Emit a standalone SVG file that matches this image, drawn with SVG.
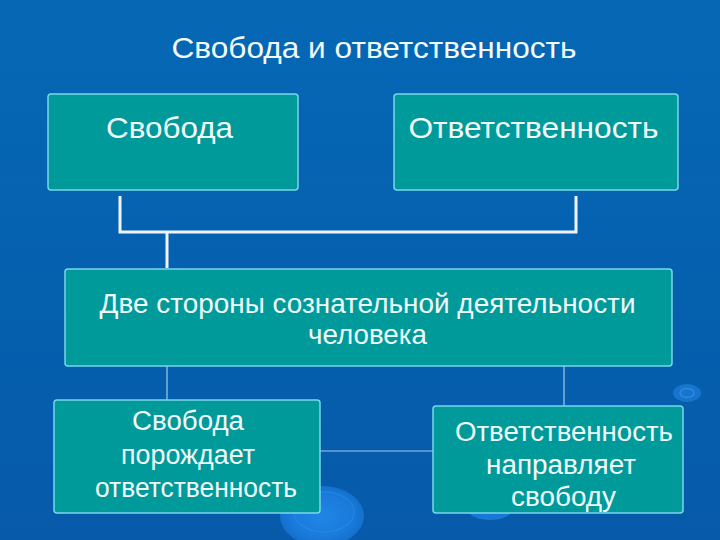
<svg xmlns="http://www.w3.org/2000/svg" width="720" height="540" viewBox="0 0 720 540">
<defs>
<linearGradient id="bg" x1="0" y1="0" x2="0" y2="1">
<stop offset="0" stop-color="#0568b5"/>
<stop offset="1" stop-color="#065aa9"/>
</linearGradient>
<radialGradient id="drop" cx="0.5" cy="0.5" r="0.5">
<stop offset="0" stop-color="#1f86e4"/>
<stop offset="0.7" stop-color="#1a7bdc"/>
<stop offset="1" stop-color="#1470cc"/>
</radialGradient>
<style>
.box{fill:#009a9a;stroke:#7ad6ea;stroke-width:1.5}
.t{font-family:"Liberation Sans",Arial,sans-serif;fill:#f2fbfb;text-anchor:middle}
.thick{fill:none;stroke:#eef4fa;stroke-width:3}
.thin{fill:none;stroke:#9ecbe8;stroke-width:1.2}
</style>
</defs>
<rect width="720" height="540" fill="url(#bg)"/>
<g id="decor">
<ellipse cx="322" cy="516" rx="42" ry="30" fill="url(#drop)"/>
<ellipse cx="324" cy="512" rx="30" ry="20" fill="none" stroke="#2a8fe8" stroke-width="1.5" opacity="0.5"/>
<ellipse cx="490" cy="510" rx="22" ry="10" fill="#1878d6"/>
<ellipse cx="687" cy="393" rx="14" ry="9" fill="#1e7fdc" opacity="0.7"/>
<ellipse cx="687" cy="393" rx="7" ry="4.5" fill="none" stroke="#3590e6" stroke-width="1.5" opacity="0.8"/>
</g>
<text class="t" x="374" y="58" font-size="29" textLength="405" lengthAdjust="spacingAndGlyphs">Свобода и ответственность</text>
<g id="connectors">
<path class="thick" d="M120 196 V232 H576 V196"/>
<path class="thick" d="M167 232 V268"/>
<path class="thin" d="M167 366 V400"/>
<path class="thin" d="M564 366 V406"/>
<path class="thin" d="M320 451 H433"/>
</g>
<g id="n-freedom">
<rect class="box" x="48" y="94" width="250" height="96" rx="3"/>
<text class="t" x="169.5" y="138" font-size="29" textLength="127" lengthAdjust="spacingAndGlyphs">Свобода</text>
</g>
<g id="n-responsibility">
<rect class="box" x="394" y="94" width="284" height="96" rx="3"/>
<text class="t" x="533.5" y="137.5" font-size="30" textLength="250" lengthAdjust="spacingAndGlyphs">Ответственность</text>
</g>
<g id="n-sides">
<rect class="box" x="65" y="269" width="607" height="97" rx="3"/>
<text class="t" x="367.5" y="313" font-size="28" textLength="536" lengthAdjust="spacingAndGlyphs">Две стороны сознательной деятельности</text>
<text class="t" x="367.5" y="344" font-size="28" textLength="119" lengthAdjust="spacingAndGlyphs">человека</text>
</g>
<g id="n-gen">
<rect class="box" x="54" y="400" width="266" height="113" rx="3"/>
<text class="t" x="188" y="430" font-size="27" textLength="112" lengthAdjust="spacingAndGlyphs">Свобода</text>
<text class="t" x="188" y="464" font-size="27" textLength="134" lengthAdjust="spacingAndGlyphs">порождает</text>
<text class="t" x="196" y="497" font-size="27" textLength="202" lengthAdjust="spacingAndGlyphs">ответственность</text>
</g>
<g id="n-dir">
<rect class="box" x="433" y="406" width="250" height="107" rx="3"/>
<text class="t" x="564" y="441" font-size="27" textLength="218" lengthAdjust="spacingAndGlyphs">Ответственность</text>
<text class="t" x="561" y="474" font-size="27" textLength="150" lengthAdjust="spacingAndGlyphs">направляет</text>
<text class="t" x="563.5" y="506" font-size="27" textLength="105" lengthAdjust="spacingAndGlyphs">свободу</text>
</g>
</svg>
